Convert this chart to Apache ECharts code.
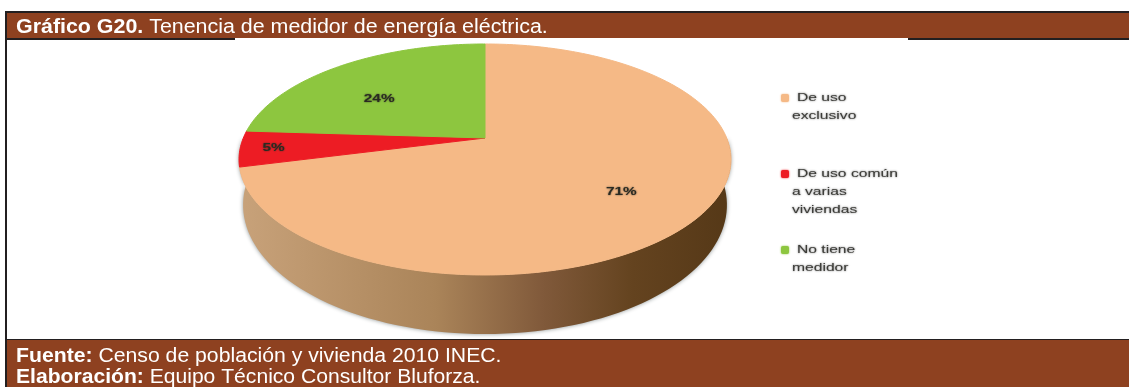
<!DOCTYPE html>
<html>
<head>
<meta charset="utf-8">
<style>
	html, body { margin: 0; padding: 0; background: #fff; }
	#main { width: 1129px; height: 387px; }
</style>
<script src="https://cdn.jsdelivr.net/npm/echarts@6/dist/echarts.min.js"></script>
</head>
<body>
<div id="main"></div>
<script>
const categories = ['De uso exclusivo', 'De uso común a varias viviendas', 'No tiene medidor'];
const values = [71, 5, 24];
const legendLines = [['De uso', 'exclusivo'], ['De uso común', 'a varias', 'viviendas'], ['No tiene', 'medidor']];
const sliceColors = ['#f5b986', '#ed1c24', '#8dc63f'];

const W = 1129;
const H = 387;
const BROWN = '#8e4120';
const DARK = '#231f20';
const FONT = '"Liberation Sans", Arial, sans-serif';

// the pie is a circle seen in perspective, k is how much the front grows
const k = 0.186;
const topFace = { cx: 485, cy: 138, rx: 241.7, ry: 111.5 };
const bottomFace = { cx: 485, cy: 181, rx: 237.7, ry: 124.6 };
const labelSpots = [{ r: 0.66, dy: 5 }, { r: 0.865, dy: 1 }, { r: 0.7, dy: 13 }];
const total = values.reduce((a, b) => a + b, 0);

function project(face, deg, r) {
	const t = (deg * Math.PI) / 180;
	const u = r * Math.sin(t);
	const v = -r * Math.cos(t);
	const w = 1 - k * v;
	return [face.cx + (face.rx * u) / w, face.cy + (face.ry * v) / w];
}

function renderSlice(params, api) {
	const i = params.dataIndex;
	let before = 0;
	for (let j = 0; j < i; j++) before += values[j];
	const start = (before / total) * 360;
	const end = ((before + api.value(1)) / total) * 360;
	const points = [api.coord(project(topFace, 0, 0))];
	for (let a = start; a < end; a += 1) points.push(api.coord(project(topFace, a, 1)));
	points.push(api.coord(project(topFace, end, 1)));
	const spot = labelSpots[i];
	const at = api.coord(project(topFace, (start + end) / 2, spot.r));
	return {
		type: 'group',
		children: [
			{
				type: 'polygon',
				shape: { points },
				style: { fill: sliceColors[i], stroke: sliceColors[i], lineWidth: 1 }
			},
			{
				type: 'text',
				x: at[0],
				y: at[1] + spot.dy,
				scaleX: 1.4,
				z2: 5,
				style: {
					text: api.value(1) + '%',
					fill: '#2a2a22',
					font: 'bold 11px ' + FONT,
					align: 'center',
					verticalAlign: 'middle',
					textShadowColor: 'rgba(40,40,30,0.8)',
					textShadowBlur: 2
				}
			}
		]
	};
}

function renderWall(params, api) {
	const points = [];
	for (let a = 90; a <= 270; a += 2) points.push(api.coord(project(bottomFace, a, 1)));
	for (let a = 270; a >= 90; a -= 2) points.push(api.coord(project(topFace, a, 1)));
	return {
		type: 'polygon',
		shape: { points },
		style: {
			fill: new echarts.graphic.LinearGradient(0, 0, 1, 0, [
				{ offset: 0, color: '#c8a27a' },
				{ offset: 0.4, color: '#aa8459' },
				{ offset: 0.62, color: '#80593a' },
				{ offset: 0.8, color: '#64431f' },
				{ offset: 1, color: '#553817' }
			]),
			shadowColor: 'rgba(90,100,100,0.7)',
			shadowBlur: 4
		}
	};
}

function legendGraphics() {
	const out = [];
	const tops = [98, 174, 250];
	legendLines.forEach((lines, i) => {
		out.push({
			type: 'rect',
			shape: { x: 781, y: tops[i] - 4, width: 8, height: 8, r: 2 },
			style: { fill: sliceColors[i], shadowColor: sliceColors[i], shadowBlur: 2 }
		});
		lines.forEach((line, n) => {
			out.push({
				type: 'text',
				x: n === 0 ? 797 : 792,
				y: tops[i] + n * 17.7,
				scaleX: 1.36,
				style: {
					text: line,
					fill: '#3c3c38',
					font: '11.5px ' + FONT,
					verticalAlign: 'middle',
					textShadowColor: 'rgba(40,40,40,0.75)',
					textShadowBlur: 2
				}
			});
		});
	});
	return out;
}

function boldPlain(x, y, bold, plain, size, stretch) {
	return {
		type: 'text',
		x,
		y,
		z: 20,
		scaleX: stretch,
		style: {
			rich: {
				b: { font: 'bold ' + size + 'px ' + FONT, fill: '#fff' },
				n: { font: size + 'px ' + FONT, fill: '#fff' }
			},
			text: '{b|' + bold + ' }{n|' + plain + '}',
			verticalAlign: 'middle'
		}
	};
}

const chart = echarts.init(document.getElementById('main'), null, { renderer: 'canvas' });
chart.setOption({
	animation: false,
	backgroundColor: '#fff',
	grid: { left: 0, right: 0, top: 0, bottom: 0 },
	xAxis: { type: 'value', min: 0, max: W, show: false },
	yAxis: { type: 'value', min: 0, max: H, inverse: true, show: false },
	graphic: [
		// frame
		{ type: 'rect', z: 10, shape: { x: 5, y: 11, width: W - 5, height: 2 }, style: { fill: DARK } },
		{ type: 'rect', z: 10, shape: { x: 5, y: 11, width: 2, height: H - 11 }, style: { fill: DARK } },
		{ type: 'rect', z: 10, shape: { x: 7, y: 13, width: W - 7, height: 25 }, style: { fill: BROWN } },
		{ type: 'rect', z: 10, shape: { x: 7, y: 38, width: 228, height: 2 }, style: { fill: DARK } },
		{ type: 'rect', z: 10, shape: { x: 908, y: 38, width: W - 908, height: 2 }, style: { fill: DARK } },
		{ type: 'rect', z: 10, shape: { x: 7, y: 339, width: W - 7, height: 1 }, style: { fill: DARK } },
		{ type: 'rect', z: 10, shape: { x: 7, y: 340, width: W - 7, height: H - 340 }, style: { fill: BROWN } },
		boldPlain(16, 27, 'Gráfico G20.', 'Tenencia de medidor de energía eléctrica.', 20, 1.07),
		boldPlain(16, 356, 'Fuente:', 'Censo de población y vivienda 2010 INEC.', 20, 1.06),
		boldPlain(16, 377, 'Elaboración:', 'Equipo Técnico Consultor Bluforza.', 20, 1.055)
	].concat(legendGraphics()),
	series: [
		{
			type: 'custom',
			coordinateSystem: 'cartesian2d',
			silent: true,
			z: 1,
			renderItem: renderWall,
			data: [[0, 0]]
		},
		{
			type: 'custom',
			name: 'Tenencia de medidor',
			coordinateSystem: 'cartesian2d',
			z: 2,
			renderItem: renderSlice,
			encode: { x: 0, y: 1 },
			data: categories.map((c, i) => ({ name: c, value: [i, values[i]] }))
		}
	]
});
</script>
</body>
</html>
